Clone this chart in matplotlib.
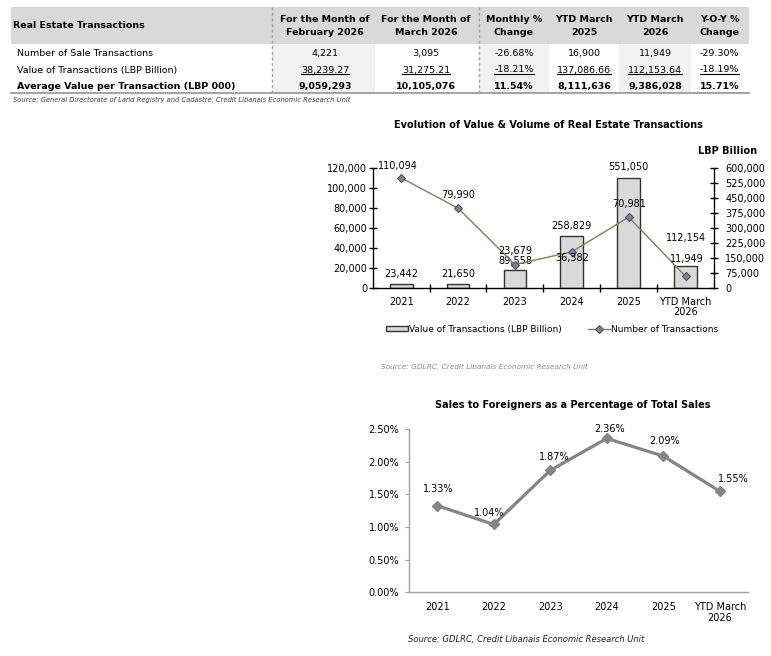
import matplotlib
matplotlib.use("Agg")
import matplotlib.pyplot as plt
from matplotlib.patches import Rectangle
from matplotlib.lines import Line2D
from matplotlib.ticker import FuncFormatter, MultipleLocator

plt.rcParams['font.family'] = ['DejaVu Sans']

# ---------------- data ----------------
table_title = "Real Estate Transactions"
table_columns = ["For the Month of\nFebruary 2026", "For the Month of\nMarch 2026",
                 "Monthly %\nChange", "YTD March\n2025", "YTD March\n2026", "Y-O-Y %\nChange"]
table_rows = ["Number of Sale Transactions", "Value of Transactions (LBP Billion)",
              "Average Value per Transaction (LBP 000)"]
col_feb = ["4,221", "38,239.27", "9,059,293"]
col_mar = ["3,095", "31,275.21", "10,105,076"]
col_mom = ["-26.68%", "-18.21%", "11.54%"]
col_ytd25 = ["16,900", "137,086.66", "8,111,636"]
col_ytd26 = ["11,949", "112,153.64", "9,386,028"]
col_yoy = ["-29.30%", "-18.19%", "15.71%"]
table_source = "Source: General Directorate of Land Registry and Cadastre, Credit Libanais Economic Research Unit"

years = ["2021", "2022", "2023", "2024", "2025", "YTD March\n2026"]
value_bn = [23442, 21650, 89558, 258829, 551050, 112154]
num_trans = [110094, 79990, 23679, 36382, 70981, 11949]
foreign_pct = [1.33, 1.04, 1.87, 2.36, 2.09, 1.55]

# ---------------- figure ----------------
W, H = 771, 656
fig = plt.figure(figsize=(W / 100, H / 100), dpi=100)
fig.patch.set_facecolor('white')

# table drawn on a pixel-space canvas axes
ax0 = fig.add_axes([0, 0, 1, 1])
ax0.set_xlim(0, W)
ax0.set_ylim(H, 0)
ax0.axis('off')

col_edges = [272, 375, 478.5, 548.5, 619, 691, 749]
col_shade = [True, False, True, False, True, False]
col_text_x = [325, 426, 514, 584, 655, 719.5]
hdr_top, hdr_bot, tbl_bot = 6.5, 44, 93
row_y = [53.3, 70, 86.7]
fs_t = 6.8

ax0.add_patch(Rectangle((11, hdr_top), 749 - 11, hdr_bot - hdr_top, facecolor='#D9D9D9', edgecolor='none'))
for i in range(6):
    if col_shade[i]:
        ax0.add_patch(Rectangle((col_edges[i], hdr_bot), col_edges[i + 1] - col_edges[i], tbl_bot - hdr_bot,
                                facecolor='#F2F2F2', edgecolor='none'))
for xd in (272, 478.5):
    ax0.plot([xd, xd], [hdr_top, tbl_bot], color='#A0A0A0', lw=1, ls=(0, (2, 2)))
ax0.plot([11, 749], [tbl_bot, tbl_bot], color='#A6A6A6', lw=1.5)

ax0.text(13, 25.3, table_title, fontsize=fs_t, fontweight='bold', va='center', ha='left')
for i, c in enumerate(table_columns):
    ax0.text(col_text_x[i], 26, c, fontsize=fs_t, fontweight='bold', va='center', ha='center',
             linespacing=1.45)
for r, lab in enumerate(table_rows):
    ax0.text(17, row_y[r], lab, fontsize=fs_t, va='center', ha='left',
             fontweight='bold' if r == 2 else 'normal')

cols = [col_feb, col_mar, col_mom, col_ytd25, col_ytd26, col_yoy]
underlined = []
for i, col in enumerate(cols):
    for r, v in enumerate(col):
        t = ax0.text(col_text_x[i], row_y[r], v, fontsize=fs_t, va='center', ha='center',
                     fontweight='bold' if r == 2 else 'normal')
        if r == 1:
            underlined.append(t)
ax0.text(13, 99.5, table_source, fontsize=4.9, style='italic', va='center', ha='left', color='#404040')

# ---------------- chart 1 ----------------
fs = 7
x = list(range(len(years)))
ax_bar = fig.add_axes([372.7 / W, 1 - 288.3 / H, (714 - 372.7) / W, (288.3 - 168) / H])
ax_bar.set_facecolor('none')
ax_bar.bar(x, value_bn, width=0.4, color='#D9D9D9', edgecolor='#333333', linewidth=1.0,
           label='Value of Transactions (LBP Billion)', zorder=2)
ax_bar.set_ylim(0, 600000)
ax_bar.set_xlim(-0.5, len(years) - 0.5)
ax_line = ax_bar.twinx()
ax_bar.yaxis.tick_right()
ax_bar.yaxis.set_label_position('right')
ax_line.yaxis.tick_left()
ax_line.yaxis.set_label_position('left')
ax_bar.yaxis.set_major_locator(MultipleLocator(75000))
ax_bar.yaxis.set_major_formatter(FuncFormatter(lambda v, p: f"{v:,.0f}"))
ax_line.plot(x, num_trans, color='#7F7F60', lw=1.0, marker='D', markersize=4.0,
             markerfacecolor='#8C8A5A', markeredgecolor='#4646A8', markeredgewidth=0.8,
             label='Number of Transactions', zorder=3)
ax_line.set_ylim(0, 120000)
ax_line.set_xlim(-0.5, len(years) - 0.5)
ax_line.yaxis.set_major_locator(MultipleLocator(20000))
ax_line.yaxis.set_major_formatter(FuncFormatter(lambda v, p: f"{v:,.0f}"))

for a in (ax_bar, ax_line):
    a.spines['top'].set_visible(False)
ax_bar.spines['left'].set_visible(False)
ax_line.spines['right'].set_visible(False)
ax_line.spines['bottom'].set_visible(False)
for s in ('bottom', 'right'):
    ax_bar.spines[s].set_color('#000000')
    ax_bar.spines[s].set_linewidth(1.0)
ax_line.spines['left'].set_color('#000000')
ax_line.spines['left'].set_linewidth(1.0)

ax_bar.set_xticks(x)
ax_bar.set_xticklabels(years, fontsize=fs, linespacing=1.1)
ax_bar.set_xticks([i + 0.5 for i in x[:-1]], minor=True)
ax_bar.tick_params(axis='x', which='major', length=0, pad=6)
ax_bar.tick_params(axis='x', which='minor', length=6, direction='inout', width=1)
ax_bar.tick_params(axis='y', labelsize=fs, length=6, direction='inout', width=1, pad=5,
                   left=False, labelleft=False, right=True, labelright=True)
ax_line.tick_params(axis='y', labelsize=fs, length=6, direction='inout', width=1, pad=1,
                    right=False, labelright=False, left=True, labelleft=True)

bar_off = [9.5, 10, 9.6, 10, 11, 27.7]
for i, v in enumerate(value_bn):
    ax_bar.annotate(f"{v:,}", (x[i], v), xytext=(0, bar_off[i]), textcoords='offset pixels',
                    ha='center', va='center', fontsize=fs)
line_off = [(-3.5, 12.3), (0.5, 12.7), (0, 13.7), (0, -6.6), (0, 13), (1.5, 17)]
for i, v in enumerate(num_trans):
    ax_line.annotate(f"{v:,}", (x[i], v), xytext=line_off[i], textcoords='offset pixels',
                     ha='center', va='center', fontsize=fs)

fig.text(548 / W, 1 - 125 / H, "Evolution of Value & Volume of Real Estate Transactions",
         fontsize=fs, fontweight='bold', ha='center', va='center')
fig.text(757 / W, 1 - 150.7 / H, "LBP Billion", fontsize=fs, fontweight='bold', ha='right', va='center')

h1, l1 = ax_bar.get_legend_handles_labels()
h2, l2 = ax_line.get_legend_handles_labels()
fig.legend(h1 + h2, l1 + l2, loc='center', bbox_to_anchor=(552 / W, 1 - 329.3 / H), ncol=2,
           frameon=False, fontsize=6.5, handlelength=2.5, handleheight=0.6, handletextpad=0.1,
           columnspacing=2.9, borderpad=0)
fig.text(381 / W, 1 - 366.7 / H, "Source: GDLRC, Credit Libanais Economic Research Unit",
         fontsize=5.3, style='italic', ha='left', va='center', color='#8C8C8C')

# ---------------- chart 2 ----------------
ax2 = fig.add_axes([409 / W, 1 - 592.3 / H, 339 / W, 163 / H])
ax2.plot(x, foreign_pct, color='#858585', lw=2.3, marker='D', markersize=5.5,
         markerfacecolor='#858585', markeredgecolor='#858585')
ax2.set_ylim(0, 2.5)
ax2.set_xlim(-0.5, len(years) - 0.5)
ax2.yaxis.set_major_locator(MultipleLocator(0.5))
ax2.yaxis.set_major_formatter(FuncFormatter(lambda v, p: f"{v:.2f}%"))
ax2.set_xticks(x)
ax2.set_xticklabels(years, fontsize=fs, linespacing=1.1)
ax2.tick_params(axis='x', length=0, pad=7)
ax2.tick_params(axis='y', labelsize=fs, length=3, color='#A0A0A0', pad=4)
for s in ('top', 'right'):
    ax2.spines[s].set_visible(False)
for s in ('left', 'bottom'):
    ax2.spines[s].set_color('#A0A0A0')
    ax2.spines[s].set_linewidth(1.0)
pct_off = [(0.6, 16.7), (-5, 11), (4, 13.4), (3.3, 9.4), (1.6, 15), (13.3, 12.4)]
for i, v in enumerate(foreign_pct):
    ax2.annotate(f"{v:.2f}%", (x[i], v), xytext=pct_off[i], textcoords='offset pixels',
                 ha='center', va='center', fontsize=fs)
fig.text(573 / W, 1 - 405 / H, "Sales to Foreigners as a Percentage of Total Sales",
         fontsize=fs, fontweight='bold', ha='center', va='center')
fig.text(408 / W, 1 - 639.3 / H, "Source: GDLRC, Credit Libanais Economic Research Unit",
         fontsize=6, style='italic', ha='left', va='center', color='#202020')

# underline the value row of the table
fig.canvas.draw()
renderer = fig.canvas.get_renderer()
inv = fig.transFigure.inverted()
for t in underlined:
    bb = t.get_window_extent(renderer)
    (x0, y0) = inv.transform((bb.x0, bb.y0 + 0.5))
    (x1, _) = inv.transform((bb.x1, bb.y0 + 0.5))
    fig.add_artist(Line2D([x0, x1], [y0, y0], color='#000000', lw=0.8))

fig.savefig("out.png", dpi=100)
